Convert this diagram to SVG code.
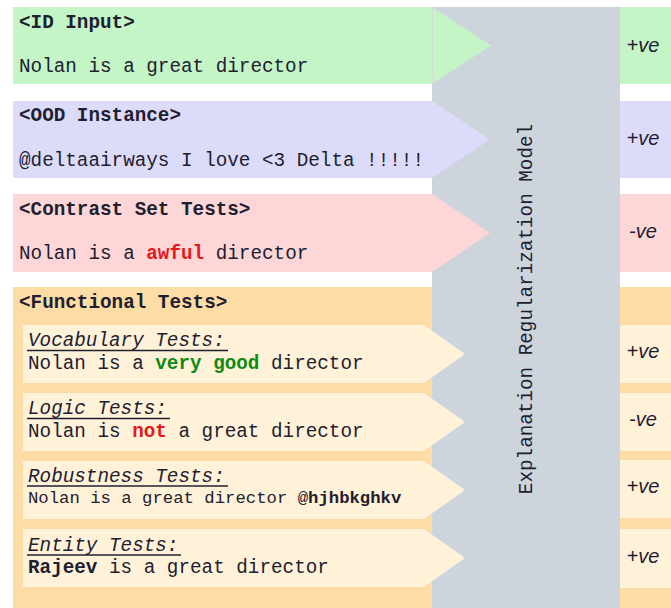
<svg xmlns="http://www.w3.org/2000/svg" width="671" height="608" viewBox="0 0 671 608">
  <style>
    .mono { font-family: "Liberation Mono", "DejaVu Sans Mono", monospace; font-size: 19.3px; fill: #1e2030; }
    .hdr { font-weight: bold; }
    .ital { font-style: italic; }
    .small { font-size: 17.3px; }
    .b { font-weight: bold; }
    .neg { fill: #e31a1c; font-weight: bold; }
    .pos { fill: #0f8a14; font-weight: bold; }
    .lbl { font-family: "Liberation Sans", Arial, sans-serif; font-style: italic; font-size: 20px; fill: #1e2030; text-anchor: middle; }
    .ul { stroke: #1e2030; stroke-width: 1.3; }
    .green { fill: #c3f5c7; }
    .blue { fill: #dcdcfa; }
    .pink { fill: #fdd6d7; }
    .orange { fill: #fddca5; }
    .cream { fill: #fff2d9; }
    .model { fill: #cdd4dc; }
  </style>

  <!-- model column -->
  <g id="model">
    <rect class="model" x="432" y="7" width="188" height="601"/>
    <text class="mono" transform="translate(532,309) rotate(-90)" text-anchor="middle">Explanation Regularization Model</text>
  </g>

  <!-- input blocks -->
  <g id="id-input">
    <rect class="green" x="13" y="7" width="419" height="77"/>
    <text class="mono hdr" x="19" y="28">&lt;ID Input&gt;</text>
    <text class="mono" x="19" y="72">Nolan is a great director</text>
  </g>

  <g id="ood-instance">
    <rect class="blue" x="13" y="101" width="419" height="77"/>
    <text class="mono hdr" x="19" y="121">&lt;OOD Instance&gt;</text>
    <text class="mono" x="19" y="166">@deltaairways I love &lt;3 Delta !!!!!</text>
  </g>

  <g id="contrast-set">
    <rect class="pink" x="13" y="194" width="419" height="78"/>
    <text class="mono hdr" x="19" y="215">&lt;Contrast Set Tests&gt;</text>
    <text class="mono" x="19" y="259">Nolan is a <tspan class="neg">awful</tspan> director</text>
  </g>

  <g id="functional-tests">
    <rect class="orange" x="13" y="287" width="419" height="321"/>
    <text class="mono hdr" x="19" y="308">&lt;Functional Tests&gt;</text>
  </g>

  <g id="vocabulary-tests">
    <rect class="cream" x="23" y="325" width="401" height="58"/>
    <text class="mono ital" x="28" y="346">Vocabulary Tests:</text>
    <line class="ul" x1="27" y1="350.5" x2="228" y2="350.5"/>
    <text class="mono" x="28" y="369">Nolan is a <tspan class="pos">very good</tspan> director</text>
  </g>

  <g id="logic-tests">
    <rect class="cream" x="23" y="393" width="401" height="58"/>
    <text class="mono ital" x="28" y="414">Logic Tests:</text>
    <line class="ul" x1="27" y1="418.5" x2="170" y2="418.5"/>
    <text class="mono" x="28" y="437">Nolan is <tspan class="neg">not</tspan> a great director</text>
  </g>

  <g id="robustness-tests">
    <rect class="cream" x="23" y="461" width="401" height="58"/>
    <text class="mono ital" x="28" y="482">Robustness Tests:</text>
    <line class="ul" x1="27" y1="486" x2="228" y2="486"/>
    <text class="mono small" x="28" y="502.5">Nolan is a great director @<tspan class="b">hjhbkghkv</tspan></text>
  </g>

  <g id="entity-tests">
    <rect class="cream" x="23" y="529" width="401" height="58"/>
    <text class="mono ital" x="28" y="551">Entity Tests:</text>
    <line class="ul" x1="27" y1="555" x2="181" y2="555"/>
    <text class="mono" x="28" y="573"><tspan class="b">Rajeev</tspan> is a great director</text>
  </g>

  <!-- arrows into the model -->
  <g id="connectors">
    <polygon class="green" points="432,7 491,45.5 432,84"/>
    <line x1="432.5" y1="7" x2="432.5" y2="84" stroke="#d3dbd6" stroke-width="1"/>
    <polygon class="blue" points="432,101 490,139.5 432,178"/>
    <polygon class="pink" points="432,194 490,233 432,272"/>
    <polygon class="cream" points="424,325 465,354 424,383"/>
    <polygon class="cream" points="424,393 465,422 424,451"/>
    <polygon class="cream" points="424,461 465,490 424,519"/>
    <polygon class="cream" points="424,529 465,558 424,587"/>
  </g>

  <!-- model outputs -->
  <g id="out-id">
    <rect class="green" x="620" y="7" width="51" height="77"/>
    <text class="lbl" x="643" y="52">+ve</text>
  </g>
  <g id="out-ood">
    <rect class="blue" x="620" y="101" width="51" height="77"/>
    <text class="lbl" x="643" y="144.5">+ve</text>
  </g>
  <g id="out-contrast">
    <rect class="pink" x="620" y="194" width="51" height="78"/>
    <text class="lbl" x="643" y="238">-ve</text>
  </g>
  <g id="out-functional">
    <rect class="orange" x="620" y="287" width="51" height="321"/>
    <rect class="cream" x="620" y="325" width="51" height="58"/>
    <text class="lbl" x="643" y="358">+ve</text>
    <rect class="cream" x="620" y="393" width="51" height="58"/>
    <text class="lbl" x="643" y="426">-ve</text>
    <rect class="cream" x="620" y="460" width="51" height="58"/>
    <text class="lbl" x="643" y="493">+ve</text>
    <rect class="cream" x="620" y="529" width="51" height="59"/>
    <text class="lbl" x="643" y="562.5">+ve</text>
  </g>
</svg>
